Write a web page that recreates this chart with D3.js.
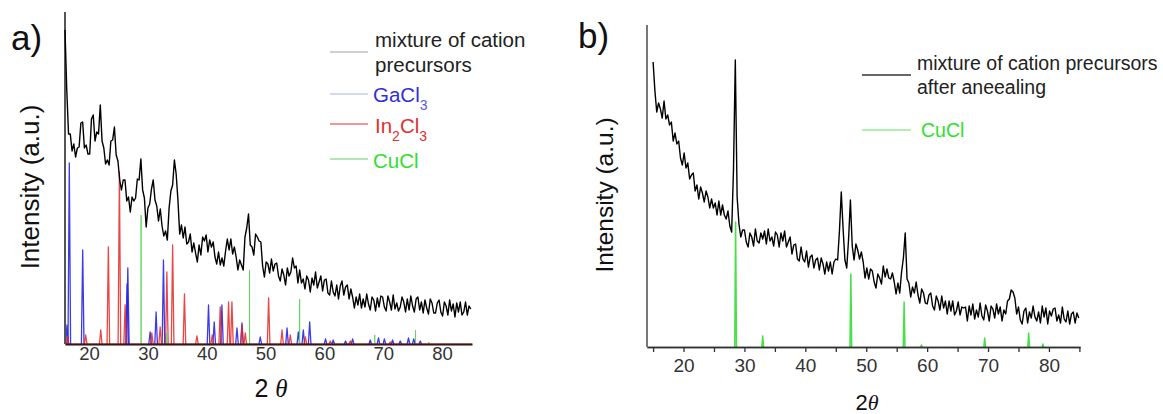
<!DOCTYPE html>
<html><head><meta charset="utf-8">
<script src="https://cdn.jsdelivr.net/npm/d3@7"></script>
<style>
html,body{margin:0;padding:0;background:#fff;}
svg{display:block;font-family:"Liberation Sans",Arial,sans-serif;}
</style></head><body>
<svg id="chart" width="1163" height="414"></svg>
<script>
// ---------------- DATA ----------------
// Panel a: x-ray scan of the mixture of cation precursors (2θ start, step; intensity a.u.)
const mixScanStart = 15.9, mixScanStep = 0.3;
const mixIntensity = [
 314,254,210,210,193,200,187,196,197,221,
 222,196,199,190,190,225,229,203,212,210,
 239,203,196,180,184,179,203,204,217,189,
 183,164,154,164,164,143,147,132,147,143,
 146,165,164,185,154,146,117,136,140,155,
 164,144,138,123,135,118,108,113,104,136,
 153,159,184,170,144,110,119,106,117,100,
 102,110,92,101,91,82,99,89,107,103,
 109,92,104,97,102,87,80,92,79,86,
 78,93,105,94,105,90,97,87,74,84,
 79,74,107,116,130,99,97,89,110,107,
 103,102,78,67,82,80,71,85,73,80,
 81,68,63,75,69,59,76,68,72,86,
 76,78,61,74,61,65,55,68,64,52,
 66,59,72,56,62,68,53,64,65,51,
 49,63,52,48,59,45,58,63,49,57,
 59,45,55,47,36,47,39,50,36,45,
 37,50,40,34,47,44,33,46,37,48,
 47,37,33,48,42,34,49,35,41,33,
 37,47,42,32,45,34,48,38,32,45,
 47,34,42,31,44,36,30,45,41,31,
 31,41,44,32,28,42,38,29,44,33,
 40,27,41,32,42,29,32,42,29,38,
 35
];
// Reference patterns in panel a: [2θ, intensity]
const gaCl3Peaks = [
 [16.24,19],[16.63,181],[18.91,94],[26.45,60],[26.58,76],[30.37,12],[31.39,32],[32.64,84],
 [40.30,39],[41.27,22],[42.58,39],[45.14,16],[45.99,21],[49.10,7],[53.65,16],[55.57,12],
 [56.42,14],[57.50,22],[60.2,5],[61.5,4],[63.6,3],[64.8,5],[67.8,4],[69.2,6],[70.2,5],
 [71.6,4],[72.9,3],[74.3,6],[75.2,5],[76.3,3]
];
const in2Cl3Peaks = [
 [16.33,7],[19.42,9],[21.98,14],[23.27,97],[25.15,172],[26.12,39],[30.66,11],[32.08,17],
 [33.22,72],[34.20,99],[36.21,50],[38.33,8],[40.93,9],[42.29,37],[43.71,42],[44.28,42],
 [45.99,19],[46.55,11],[50.52,46],[52.80,14],[54.21,9],[56.77,7],[61.0,3],[64.4,3],[71.2,2]
];
const cuClSticksA = [
 [28.84,129],[33.22,11],[47.28,74],[55.79,45],[68.57,9],[75.50,14],[77.76,2]
];
const ticksA = [20,30,40,50,60,70,80];

// Panel b: mixture of cation precursors after annealing
const annScanStart = 15.0, annScanStep = 0.3;
const annIntensity = [
 285,256,235,244,238,229,246,228,232,222,
 225,206,214,203,206,189,182,194,179,184,
 168,172,174,156,162,148,160,154,145,156,
 150,139,148,139,144,132,146,132,142,132,
 128,136,121,115,177,287,150,123,110,117,
 117,105,100,114,110,101,118,106,104,114,
 108,116,103,118,106,110,101,115,112,100,
 114,106,116,100,105,110,93,102,103,88,
 86,100,88,85,96,80,90,92,79,87,
 89,77,89,83,73,85,76,85,73,85,
 88,87,116,155,118,87,79,108,147,101,
 87,103,97,88,95,85,69,79,68,78,
 76,65,59,73,69,63,81,70,78,69,
 68,74,65,53,64,54,75,89,114,68,
 64,50,60,54,65,52,44,58,54,44,
 43,52,54,41,37,51,46,37,51,39,
 46,33,46,36,46,32,36,45,32,40,
 39,40,26,41,32,43,28,37,30,44,
 31,27,42,36,26,41,38,29,43,33,
 40,26,37,33,46,48,57,55,49,33,
 40,27,23,36,39,24,35,29,41,30,
 26,35,24,41,30,39,23,36,31,38,
 39,26,32,24,40,28,25,36,23,33,
 35,24,34,29
];
const cuClPeaksB = [
 [28.55,125],[33.0,11],[47.47,73],[56.22,45],[59.07,2],[69.45,9],[76.67,14],[79.0,3]
];
const ticksBMajor = [20,30,40,50,60,70,80];
const ticksBMinor = [15,25,35,45,55,65,75,85];

// ---------------- DRAWING ----------------
const svg = d3.select("#chart");
const FONT = '"Liberation Sans", Arial, sans-serif';

const xA = d3.scaleLinear().domain([15.9, 85.1]).range([65, 472]);
const yA = d3.scaleLinear().domain([0, 332]).range([344, 12]);
const xB = d3.scaleLinear().domain([14, 85.1]).range([647, 1080]);
const yB = d3.scaleLinear().domain([0, 322]).range([347, 25]);

function scanPoints(start, step, vals){ return vals.map((v,i)=>[start+step*i, v]); }

function drawPeaks(g, peaks, xs, ys, halfWidth, color, width, opacity){
  const line = d3.line().x(d=>xs(d[0])).y(d=>ys(d[1]));
  g.selectAll(null).data(peaks).enter().append("path")
    .attr("d", p => line([[p[0]-halfWidth,0],[p[0],p[1]],[p[0]+halfWidth,0]]))
    .attr("fill","none").attr("stroke",color).attr("stroke-width",width)
    .attr("stroke-opacity",opacity).attr("stroke-linejoin","round");
}

// ---- Panel a ----
const gA = svg.append("g");
drawPeaks(gA, gaCl3Peaks, xA, yA, 0.22, "#2626e6", 1.3, 0.9);
drawPeaks(gA, in2Cl3Peaks, xA, yA, 0.22, "#e62626", 1.3, 0.85);
drawPeaks(gA, cuClSticksA, xA, yA, 0.0, "#5ed65e", 1.0, 0.9);

const axA = d3.axisBottom(xA).tickValues(ticksA).tickSize(0).tickSizeOuter(0).tickPadding(3);
const gAxA = gA.append("g").attr("transform","translate(0,344)").call(axA);
gAxA.select(".domain").attr("stroke","#111").attr("stroke-width",2);
gAxA.selectAll("text").attr("font-family",FONT).attr("font-size",18.5).attr("fill","#333");
gA.append("line").attr("x1",xA(15.9)).attr("x2",xA(15.9))
  .attr("y1",yA(0)).attr("y2",yA(332)).attr("stroke","#555").attr("stroke-width",2);
gA.append("line").attr("x1",xA(15.9)).attr("x2",xA(85.1)).attr("y1",yA(0)).attr("y2",yA(0))
  .attr("stroke","#a01818").attr("stroke-width",1).attr("stroke-opacity",0.7);

const lineA = d3.line().x(d=>xA(d[0])).y(d=>yA(d[1]));
gA.append("path").datum(scanPoints(mixScanStart, mixScanStep, mixIntensity))
  .attr("d", lineA).attr("fill","none").attr("stroke","#000").attr("stroke-width",1.4)
  .attr("stroke-linejoin","round");

svg.append("text").attr("x",11).attr("y",50).attr("font-family",FONT).attr("font-size",35)
  .attr("fill","#111").text("a)");
svg.append("text").attr("transform","translate(39,187) rotate(-90)").attr("text-anchor","middle")
  .attr("font-family",FONT).attr("font-size",26).attr("fill","#111").text("Intensity (a.u.)");
const xlabA = svg.append("text").attr("x",271).attr("y",397).attr("text-anchor","middle")
  .attr("font-family",FONT).attr("font-size",25).attr("fill","#111");
xlabA.append("tspan").text("2 ");
xlabA.append("tspan").attr("font-family","'Liberation Serif', serif").attr("font-style","italic").text("θ");

const legA = svg.append("g").attr("font-family",FONT).attr("font-size",20.5);
legA.append("line").attr("x1",330).attr("x2",368).attr("y1",52).attr("y2",52).attr("stroke","#a0a0a0").attr("stroke-width",1);
legA.append("text").attr("x",375).attr("y",47).attr("fill","#222").text("mixture of cation");
legA.append("text").attr("x",375).attr("y",72).attr("fill","#222").text("precursors");
legA.append("line").attr("x1",330).attr("x2",368).attr("y1",94).attr("y2",94).attr("stroke","#aab0e6").attr("stroke-width",1);
const tGa = legA.append("text").attr("x",373).attr("y",102).attr("fill","#3030d8");
tGa.append("tspan").text("GaCl");
tGa.append("tspan").attr("dy",8).attr("font-size",14).attr("fill","#5a5ae0").text("3");
legA.append("line").attr("x1",330).attr("x2",368).attr("y1",124).attr("y2",124).attr("stroke","#e03030").attr("stroke-width",1);
const tIn = legA.append("text").attr("x",375).attr("y",133).attr("fill","#e03030");
tIn.append("tspan").text("In");
tIn.append("tspan").attr("dy",8).attr("font-size",14).text("2");
tIn.append("tspan").attr("dy",-8).text("Cl");
tIn.append("tspan").attr("dy",8).attr("font-size",14).text("3");
legA.append("line").attr("x1",330).attr("x2",368).attr("y1",159).attr("y2",159).attr("stroke","#66cc66").attr("stroke-width",1);
legA.append("text").attr("x",373).attr("y",168).attr("fill","#2ee02e").text("CuCl");

// ---- Panel b ----
const gB = svg.append("g");
drawPeaks(gB, cuClPeaksB, xB, yB, 0.14, "#33dd33", 1.5, 0.9);

const axBMinor = d3.axisBottom(xB).tickValues(ticksBMinor).tickSize(5).tickSizeOuter(0).tickFormat("");
gB.append("g").attr("transform","translate(0,347)").call(axBMinor);
const axBMajor = d3.axisBottom(xB).tickValues(ticksBMajor).tickSize(5).tickSizeOuter(0).tickPadding(7);
const gAxB = gB.append("g").attr("transform","translate(0,347)").call(axBMajor);
gB.selectAll(".domain").attr("stroke","#333").attr("stroke-width",1.6);
gB.selectAll(".tick line").attr("stroke","#333").attr("stroke-width",1.3);
gAxB.selectAll("text").attr("font-family",FONT).attr("font-size",19).attr("fill","#333");
gB.append("line").attr("x1",xB(14)).attr("x2",xB(14)).attr("y1",yB(0)).attr("y2",yB(322))
  .attr("stroke","#555").attr("stroke-width",1.6);

const lineB = d3.line().x(d=>xB(d[0])).y(d=>yB(d[1]));
gB.append("path").datum(scanPoints(annScanStart, annScanStep, annIntensity))
  .attr("d", lineB).attr("fill","none").attr("stroke","#000").attr("stroke-width",1.4)
  .attr("stroke-linejoin","round");

svg.append("text").attr("x",578).attr("y",48).attr("font-family",FONT).attr("font-size",35)
  .attr("fill","#111").text("b)");
svg.append("text").attr("transform","translate(613,195) rotate(-90)").attr("text-anchor","middle")
  .attr("font-family",FONT).attr("font-size",24.5).attr("fill","#111").text("Intensity (a.u.)");
const xlabB = svg.append("text").attr("x",867).attr("y",410).attr("text-anchor","middle")
  .attr("font-family",FONT).attr("font-size",22).attr("fill","#111");
xlabB.append("tspan").text("2");
xlabB.append("tspan").attr("font-family","'Liberation Serif', serif").attr("font-style","italic").text("θ");

const legB = svg.append("g").attr("font-family",FONT).attr("font-size",19.5);
legB.append("line").attr("x1",862).attr("x2",911).attr("y1",75).attr("y2",75).attr("stroke","#333").attr("stroke-width",1.4);
legB.append("text").attr("x",917).attr("y",70).attr("fill","#222").text("mixture of cation precursors");
legB.append("text").attr("x",917).attr("y",94).attr("fill","#222").text("after aneealing");
legB.append("line").attr("x1",862).attr("x2",911).attr("y1",130).attr("y2",130).attr("stroke","#66dd66").attr("stroke-width",1);
legB.append("text").attr("x",921).attr("y",137).attr("fill","#2ee02e").text("CuCl");
</script>
</body></html>
